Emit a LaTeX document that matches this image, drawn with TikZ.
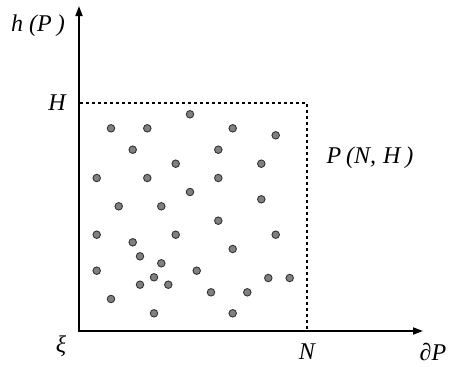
\documentclass[tikz,border=0pt]{standalone}
\usepackage{fontspec}
\setmainfont{Liberation Serif}
\usetikzlibrary{arrows.meta}
\tikzset{
  axis/.style={line width=1.8pt,-{Triangle[length=10pt,width=7pt]}},
  bound/.style={line width=1.3pt,dash pattern=on 3pt off 3pt},
  dot/.style={circle,draw=black!80,fill=black!50,line width=0.9pt,inner sep=0pt,minimum size=7.5pt},
  lbl/.style={font=\fontsize{24}{26}\selectfont\itshape,inner sep=0pt}
}
\begin{document}
\begin{tikzpicture}[x=1pt,y=-1pt]
\useasboundingbox (0,0) rectangle (464,367);
\coordinate (O) at (79,331);
\coordinate (ytip) at (79,6);
\coordinate (xtip) at (423,331);
\coordinate (Hp) at (80,103);
\coordinate (C) at (307,103);
\coordinate (Np) at (307,330);
\draw[bound] (Hp) -- (C) -- (Np);
\draw[axis] ([yshift=-0.9pt]O) -- (ytip);
\draw[axis] ([xshift=-0.9pt]O) -- (xtip);
\foreach \x/\y [count=\i] in {190/114.3,111/128.3,147.3/128.3,232.7/128.3,275.7/135.3,132.7/149.7,218.3/149.7,175.7/163.7,261.3/163.7,96.7/178,147.3/178,218.3/178,190/192,261.3/199.3,118.7/206.3,161.3/206.3,218.3/220.7,96.7/234.7,175.7/234.7,275.7/234.7,132.7/242.3,232.7/249,140/256.3,161.3/263.3,96.7/270.7,196.7/270.7,154/277.3,268.3/278,289.7/278,140/284.7,168.3/284.7,211/292.3,247.3/292.3,111/299,154/313.3,232.7/313.3}
  \node[dot] (d\i) at (\x,\y) {};
\node[lbl] (hP) at (38,26) {h\hspace{6pt}(P\hspace{5pt})};
\node[lbl] (Hl) at (57,103) {H};
\node[lbl] (xi) at (61,346) {ξ};
\node[lbl] (Nl) at (307,352) {N};
\node[lbl] (dP) at (433,352) {∂P};
\node[lbl] (PNH) at (370,158) {P\hspace{5pt}(N,\hspace{7pt}H\hspace{5pt})};
\end{tikzpicture}
\end{document}
